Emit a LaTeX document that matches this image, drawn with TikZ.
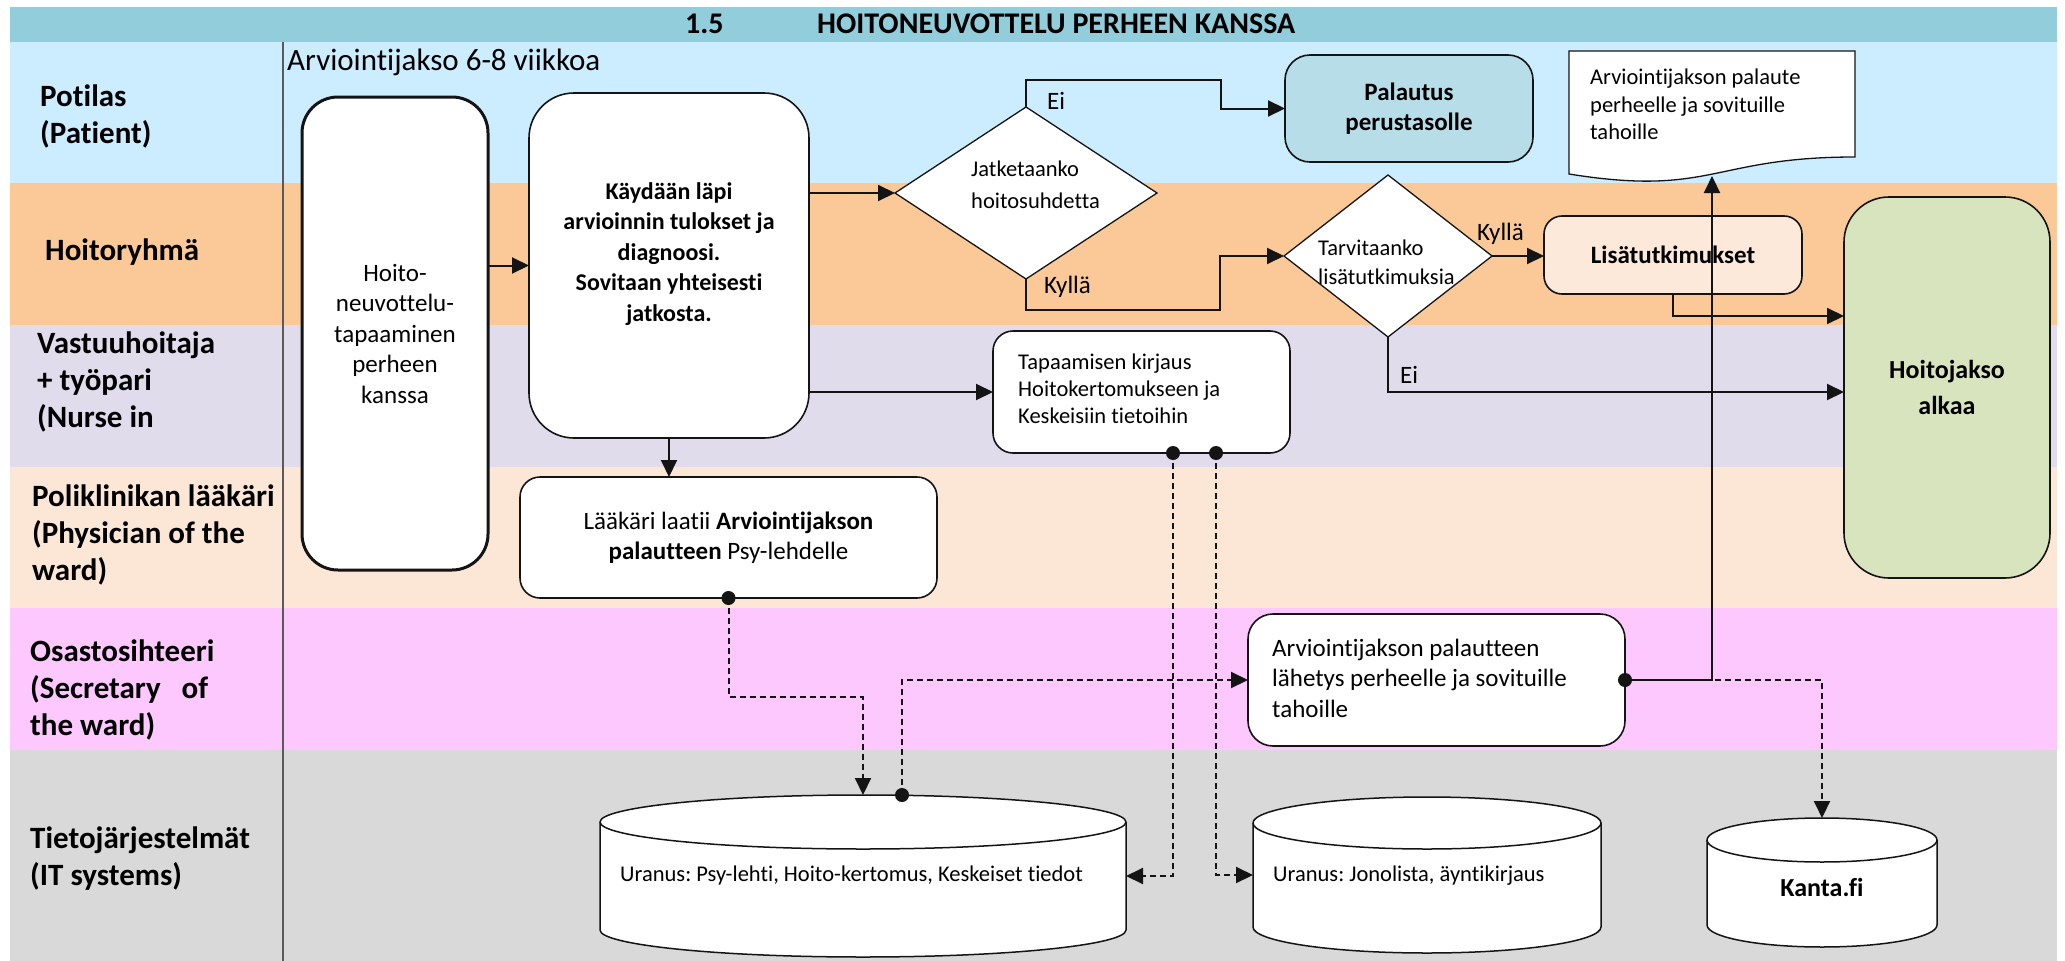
\documentclass[tikz,border=0pt]{standalone}
\usepackage{fontspec}
\setmainfont{Carlito}[Ligatures=NoCommon]
\frenchspacing
\usetikzlibrary{arrows.meta,shapes.geometric}

\definecolor{hdr}{RGB}{146,205,220}
\definecolor{lnPat}{RGB}{204,236,255}
\definecolor{lnTeam}{RGB}{251,201,151}
\definecolor{lnNurse}{RGB}{224,220,236}
\definecolor{lnDoc}{RGB}{252,230,214}
\definecolor{lnSec}{RGB}{253,200,253}
\definecolor{lnIT}{RGB}{217,217,217}
\definecolor{fBlue}{RGB}{183,222,232}
\definecolor{fPeach}{RGB}{253,233,217}
\definecolor{fGreen}{RGB}{215,228,189}
\definecolor{ink}{RGB}{20,20,20}
\definecolor{sepline}{RGB}{90,90,90}

\tikzset{
  lanelbl/.style={anchor=west, align=left, inner sep=0pt, font=\fontsize{31}{37}\selectfont\bfseries},
  box/.style={draw=ink, line width=1.6pt, fill=white, rounded corners=#1, inner sep=0pt, outer sep=0pt},
  box/.default=20pt,
  decision/.style={diamond, draw=ink, line width=1.3pt, fill=white, inner sep=0pt, outer sep=0pt},
  anchorbox/.style={inner sep=0pt, outer sep=0pt},
  tleft/.style={anchor=west, align=left, inner sep=0pt},
  tmid/.style={align=center, inner sep=0pt},
  fs225/.style={font=\fontsize{22.5}{27.5}\selectfont},
  fs25/.style={font=\fontsize{25}{30.5}\selectfont},
  fs25b/.style={font=\fontsize{25}{30.5}\selectfont\bfseries},
  flow/.style={draw=ink, line width=2pt, -{Triangle[length=17pt,width=16pt]}},
  dflow/.style={flow, dash pattern=on 6pt off 4pt},
}

% database drum: left, right, top, bottom, half height of the ellipse
\newcommand{\dbdrum}[5]{%
  \pgfmathsetmacro\drumrx{(#2-#1)/2}%
  \filldraw[fill=white, draw=ink, line width=1.5pt]
    (#1,#3+#5) -- (#1,#4-#5)
    arc[start angle=180, end angle=360, x radius=\drumrx pt, y radius=#5pt]
    -- (#2,#3+#5)
    arc[start angle=0, end angle=180, x radius=\drumrx pt, y radius=#5pt] -- cycle;
  \draw[ink, line width=1.5pt] (#1,#3+#5)
    arc[start angle=180, end angle=360, x radius=\drumrx pt, y radius=#5pt];
}

\begin{document}
\begin{tikzpicture}[x=1pt, y=-1pt]
\useasboundingbox (0,0) rectangle (2065,961);
\fill[white] (0,0) rectangle (2065,961);

% swimlanes
\fill[hdr]     (10,7)   rectangle (2057,42);
\fill[lnPat]   (10,42)  rectangle (2057,183);
\fill[lnTeam]  (10,183) rectangle (2057,325);
\fill[lnNurse] (10,325) rectangle (2057,467);
\fill[lnDoc]   (10,467) rectangle (2057,608);
\fill[lnSec]   (10,608) rectangle (2057,750);
\fill[lnIT]    (10,750) rectangle (2057,961);
\draw[sepline, line width=2pt] (283,42) -- (283,961);

% title
\node[anchor=base west, inner sep=0pt, font=\fontsize{30}{36}\selectfont\bfseries] (num) at (685,33) {1.5};
\node[anchor=base west, inner sep=0pt, font=\fontsize{30}{36}\selectfont\bfseries] (title) at (817,33) {HOITONEUVOTTELU PERHEEN KANSSA};
\node[tleft, font=\fontsize{31}{37}\selectfont] (period) at (287,62) {Arviointijakso 6-8 viikkoa};

% lane labels
\node[lanelbl] (l1) at (40,116) {Potilas\\(Patient)};
\node[lanelbl] (l2) at (45,252) {Hoitoryhmä};
\node[lanelbl] (l3) at (37,382) {Vastuuhoitaja\\+ työpari\\(Nurse in};
\node[lanelbl] (l4) at (32,535) {Poliklinikan lääkäri\\(Physician of the\\ward)};
\node[lanelbl] (l5) at (30,690) {Osastosihteeri\\(Secretary\ \ \ of\\the ward)};
\node[lanelbl] (l6) at (30,859) {Tietojärjestelmät\\(IT systems)};

% process steps
\node[box=36pt, line width=3pt, minimum width=186pt, minimum height=473pt, tmid, fs25] (A) at (395,333.5)
  {Hoito-\\neuvottelu-\\tapaaminen\\perheen\\kanssa};
\node[box=45pt, minimum width=280pt, minimum height=345pt] (B) at (669,265.5) {};
\node[tmid, font=\fontsize{24}{30.5}\selectfont\bfseries] (Bt) at (669,254)
  {Käydään läpi\\arvioinnin tulokset ja\\diagnoosi.\\Sovitaan yhteisesti\\jatkosta.};
\node[box=20pt, minimum width=417pt, minimum height=121pt, tmid, fs25] (C) at (728.5,537.5)
  {Lääkäri laatii \textbf{Arviointijakson}\\\textbf{palautteen} Psy-lehdelle};

\node[decision, minimum width=262pt, minimum height=172pt] (D) at (1026,193) {};
\node[tleft, font=\fontsize{22.5}{32}\selectfont] (Dt) at (971,185) {Jatketaanko\\hoitosuhdetta};

\node[box=25pt, fill=fBlue, minimum width=248pt, minimum height=107pt, tmid, fs25b] (E) at (1409,108.5)
  {Palautus\\perustasolle};

% document shape
\filldraw[fill=white, draw=ink, line width=1.3pt]
  (1569,51) -- (1855,51) -- (1855,157) .. controls (1712,157) and (1712,197) .. (1569,174) -- cycle;
\coordinate (Fb) at (1712,176);
\node[tleft, fs225] (Ft) at (1590,104.5) {Arviointijakson palaute\\perheelle ja sovituille\\tahoille};

\node[decision, minimum width=208pt, minimum height=162pt] (G) at (1388,256) {};
\node[tleft, font=\fontsize{22.5}{29}\selectfont] (Gt) at (1318,262.5) {Tarvitaanko\\lisätutkimuksia};

\node[box=18pt, fill=fPeach, minimum width=258pt, minimum height=78pt, tmid, fs25b] (I) at (1673,255)
  {Lisätutkimukset};
\node[box=45pt, fill=fGreen, minimum width=206pt, minimum height=381pt, tmid, font=\fontsize{26}{36}\selectfont\bfseries] (J) at (1947,387.5)
  {Hoitojakso\\alkaa};

\node[box=20pt, minimum width=297pt, minimum height=122pt] (K) at (1141.5,392) {};
\node[tleft, font=\fontsize{22.5}{27}\selectfont] (Kt) at (1018,389)
  {Tapaamisen kirjaus\\Hoitokertomukseen ja\\Keskeisiin tietoihin};

\node[box=25pt, minimum width=377pt, minimum height=132pt] (H) at (1436.5,680) {};
\node[tleft, fs25] (Ht) at (1272,678)
  {Arviointijakson palautteen\\lähetys perheelle ja sovituille\\tahoille};

% information systems
\dbdrum{600}{1126}{795}{957}{27}
\dbdrum{1253}{1601}{797}{953}{26}
\dbdrum{1707}{1937}{818}{947}{22}
\node[anchorbox, minimum width=526pt, minimum height=162pt] (U1) at (863,876) {};
\node[anchorbox, minimum width=348pt, minimum height=156pt] (U2) at (1427,875) {};
\node[anchorbox, minimum width=230pt, minimum height=129pt] (KF) at (1822,882.5) {};
\node[tleft, fs225] (U1t) at (620,875) {Uranus: Psy-lehti, Hoito-kertomus, Keskeiset tiedot};
\node[tleft, fs225] (U2t) at (1273,876) {Uranus: Jonolista, äyntikirjaus};
\node[tmid, font=\fontsize{26}{30}\selectfont\bfseries] (KFt) at (1822,887) {Kanta.fi};

% connectors
\draw[flow] (A.east |- B.west) -- (B.west);
\draw[flow] (B.east |- D.west) -- (D.west);
\draw[flow] (B.south) -- (B.south |- C.north);
\draw[flow] (B.east |- K.west) -- (K.west);
\draw[flow] (D.north) |- (1221,80) |- (E.west);
\draw[flow] (D.south) |- (1220,310) |- (G.west);
\draw[flow] (G.east) -- (G.east -| I.west);
\draw[flow] (G.south) |- (J.west |- 0,392);
\draw[flow] (I.south) |- (J.west |- 0,316);
\draw[dflow] (H.east) -| (KF.north);
\draw[flow] (H.east) -| (Fb);
\draw[dflow] (C.south) |- (U1.north |- 0,697) -- (U1.north);
\draw[dflow] ([xshift=39pt]U1.north) |- (H.west);
\draw[dflow] ([xshift=31.5pt]K.south) |- (U1.east);
\draw[dflow] ([xshift=74.5pt]K.south) |- (U2.west);

% connector start dots
\fill[ink] (C.south) circle[radius=7pt];
\fill[ink] ([xshift=39pt]U1.north) circle[radius=7pt];
\fill[ink] ([xshift=31.5pt]K.south) circle[radius=7pt];
\fill[ink] ([xshift=74.5pt]K.south) circle[radius=7pt];
\fill[ink] (H.east) circle[radius=7pt];

% branch labels
\node[tleft, fs25] (ei1) at (1047,101) {Ei};
\node[tleft, fs25] (ky1) at (1044,287) {Kyllä};
\node[tleft, fs25] (ky2) at (1477,234) {Kyllä};
\node[tleft, fs25] (ei2) at (1400,375) {Ei};
\end{tikzpicture}
\end{document}
